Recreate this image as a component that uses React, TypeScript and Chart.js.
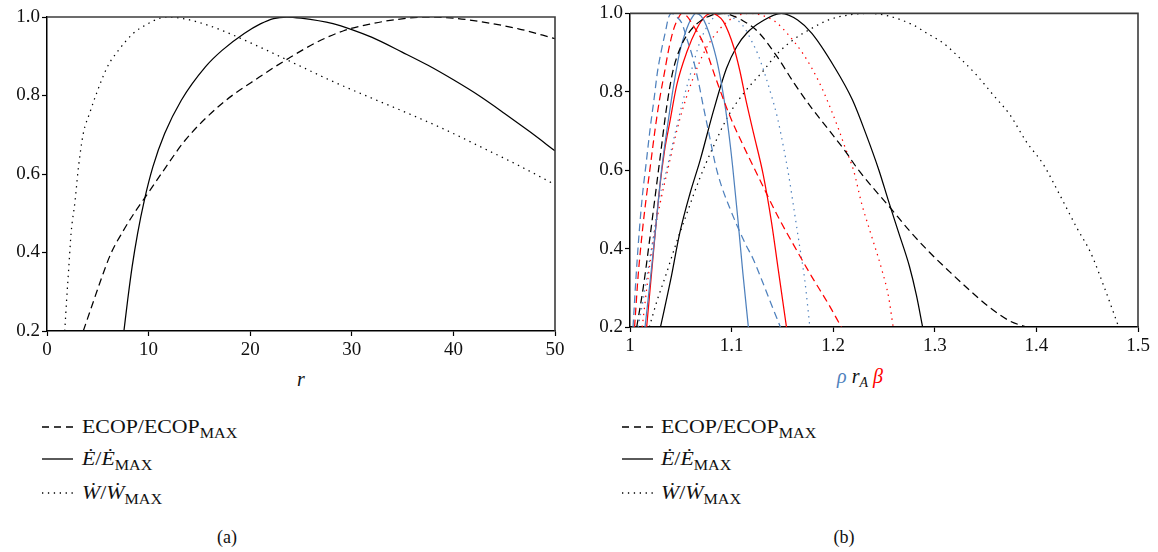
import React, { useEffect, useRef } from "react";
import { Chart, registerables } from "chart.js";

Chart.register(...registerables);

const FONT = "'Liberation Serif', 'DejaVu Serif', 'Times New Roman', serif";
const BLUE = "#4F81BD";
const RED = "#FF0000";
const BLACK = "#000000";

// ---------- tick labels ----------
const xTicksA = [0, 10, 20, 30, 40, 50];
const xTicksB = [1, 1.1, 1.2, 1.3, 1.4, 1.5];
const yTicks = [0.2, 0.4, 0.6, 0.8, 1.0];

// ---------- panel (a): x = r ----------
const aEcop: number[][] = [
  [3.57, 0.2], [4.5, 0.27], [5.3, 0.33], [6.3, 0.398], [7.5, 0.455], [8.7, 0.505],
  [9.94, 0.551], [11.5, 0.61], [13.6, 0.686], [17.2, 0.779], [20.9, 0.847],
  [23.8, 0.895], [26.5, 0.935], [29.2, 0.965], [32, 0.983], [34.5, 0.994],
  [37.3, 1.0], [40, 0.997], [42.7, 0.988], [46.4, 0.97], [50, 0.945],
];
const aE: number[][] = [
  [7.57, 0.2], [7.94, 0.279], [8.38, 0.364], [8.92, 0.449], [9.58, 0.533],
  [10.42, 0.618], [11.58, 0.703], [13.22, 0.788], [15.59, 0.873], [17.23, 0.915],
  [19.41, 0.958], [21.05, 0.983], [22.3, 0.996], [23.6, 1.0], [25, 0.997],
  [28.15, 0.983], [30, 0.968], [32, 0.948], [35, 0.91], [37.5, 0.877],
  [40, 0.84], [42.5, 0.8], [45, 0.755], [47.5, 0.708], [50, 0.659],
];
const aW: number[][] = [
  [1.75, 0.2], [1.93, 0.279], [2.15, 0.364], [2.37, 0.449], [2.77, 0.533],
  [3.1, 0.618], [3.57, 0.703], [4.2, 0.755], [4.8, 0.8], [5.94, 0.873],
  [7.03, 0.915], [8.48, 0.958], [9.94, 0.983], [11, 0.996], [11.8, 1.0],
  [13.6, 0.995], [15.5, 0.982], [17.2, 0.966], [20.9, 0.924], [24.5, 0.88],
  [28.2, 0.835], [31.8, 0.795], [35.4, 0.756], [39.1, 0.714], [42.7, 0.669],
  [46.4, 0.622], [50, 0.573],
];

// ---------- panel (b): x = rho (blue), r_A (black), beta (red) ----------
const bEcopRho: number[][] = [
  [1.003, 0.2], [1.006, 0.33], [1.009, 0.44], [1.012, 0.53], [1.016, 0.62],
  [1.02, 0.71], [1.0236, 0.78], [1.027, 0.85], [1.031, 0.907], [1.035, 0.955],
  [1.038, 0.99], [1.041, 1.0], [1.045, 0.993], [1.051, 0.975], [1.056, 0.935],
  [1.062, 0.885], [1.067, 0.83], [1.072, 0.765], [1.078, 0.69], [1.084, 0.615],
  [1.09, 0.56], [1.098, 0.505], [1.106, 0.455], [1.114, 0.41], [1.121, 0.375],
  [1.13, 0.318], [1.138, 0.265], [1.148, 0.2],
];
const bEcopBeta: number[][] = [
  [1.0045, 0.2], [1.008, 0.33], [1.012, 0.44], [1.016, 0.53], [1.02, 0.61],
  [1.025, 0.71], [1.029, 0.779], [1.034, 0.85], [1.038, 0.907], [1.043, 0.96],
  [1.047, 0.985], [1.051, 1.0], [1.056, 0.993], [1.062, 0.97], [1.072, 0.925],
  [1.085, 0.83], [1.098, 0.74], [1.112, 0.66], [1.126, 0.585], [1.146, 0.48],
  [1.162, 0.405], [1.179, 0.328], [1.195, 0.26], [1.208, 0.2],
];
const bEcopRA: number[][] = [
  [1.0066, 0.2], [1.013, 0.3], [1.0197, 0.43], [1.0246, 0.53], [1.03, 0.64],
  [1.036, 0.76], [1.042, 0.85], [1.05, 0.915], [1.06, 0.958], [1.07, 0.982],
  [1.08, 0.995], [1.092, 1.0], [1.1, 0.995], [1.11, 0.983], [1.126, 0.953],
  [1.146, 0.885], [1.162, 0.82], [1.179, 0.758], [1.195, 0.705], [1.212, 0.648],
  [1.225, 0.6], [1.2575, 0.5], [1.2756, 0.444], [1.295, 0.39], [1.315, 0.34],
  [1.335, 0.292], [1.354, 0.25], [1.374, 0.215], [1.39, 0.2],
];
const bERho: number[][] = [
  [1.0148, 0.2], [1.021, 0.345], [1.026, 0.472], [1.031, 0.6], [1.038, 0.732],
  [1.043, 0.817], [1.049, 0.902], [1.056, 0.962], [1.06, 0.985], [1.065, 1.0],
  [1.07, 0.993], [1.075, 0.97], [1.085, 0.885], [1.092, 0.79], [1.097, 0.7],
  [1.101, 0.61], [1.106, 0.48], [1.111, 0.34], [1.1165, 0.2],
];
const bEBeta: number[][] = [
  [1.0164, 0.2], [1.023, 0.388], [1.029, 0.55], [1.034, 0.65], [1.039, 0.72],
  [1.046, 0.817], [1.056, 0.902], [1.066, 0.962], [1.073, 0.99], [1.08, 1.0],
  [1.086, 0.995], [1.092, 0.979], [1.102, 0.915], [1.108, 0.855], [1.114, 0.78],
  [1.122, 0.69], [1.131, 0.59], [1.139, 0.472], [1.146, 0.345], [1.154, 0.2],
];
const bERA: number[][] = [
  [1.03, 0.2], [1.04, 0.32], [1.049, 0.44], [1.059, 0.54], [1.069, 0.625],
  [1.082, 0.75], [1.095, 0.86], [1.105, 0.915], [1.115, 0.95], [1.13, 0.98],
  [1.149, 1.0], [1.165, 0.983], [1.179, 0.949], [1.201, 0.864], [1.219, 0.779],
  [1.232, 0.694], [1.245, 0.6], [1.254, 0.525], [1.2645, 0.44], [1.275, 0.355],
  [1.282, 0.28], [1.288, 0.2],
];
const bWRho: number[][] = [
  [1.008, 0.2], [1.013, 0.27], [1.018, 0.35], [1.023, 0.43], [1.029, 0.53],
  [1.036, 0.6], [1.044, 0.69], [1.052, 0.775], [1.06, 0.85], [1.069, 0.928],
  [1.079, 0.979], [1.09, 1.0], [1.1, 0.99], [1.107, 0.98], [1.113, 0.962],
  [1.12, 0.928], [1.126, 0.895], [1.133, 0.843], [1.139, 0.792], [1.145, 0.735],
  [1.151, 0.66], [1.156, 0.59], [1.162, 0.49], [1.167, 0.405], [1.172, 0.32],
  [1.177, 0.2],
];
const bWBeta: number[][] = [
  [1.012, 0.2], [1.018, 0.33], [1.024, 0.44], [1.03, 0.52], [1.037, 0.6],
  [1.049, 0.73], [1.062, 0.834], [1.075, 0.911], [1.089, 0.962], [1.102, 0.99],
  [1.118, 1.0], [1.13, 0.995], [1.143, 0.979], [1.156, 0.945], [1.169, 0.902],
  [1.179, 0.86], [1.189, 0.809], [1.197, 0.76], [1.205, 0.707], [1.212, 0.656],
  [1.22, 0.6], [1.228, 0.515], [1.238, 0.43], [1.248, 0.345], [1.2545, 0.277],
  [1.259, 0.2],
];
const bWRA: number[][] = [
  [1.019, 0.2], [1.027, 0.27], [1.035, 0.33], [1.045, 0.41], [1.056, 0.49],
  [1.068, 0.575], [1.082, 0.66], [1.097, 0.74], [1.113, 0.8], [1.13, 0.85],
  [1.146, 0.9], [1.162, 0.935], [1.179, 0.962], [1.195, 0.983], [1.215, 0.996],
  [1.235, 1.0], [1.255, 0.993], [1.279, 0.97], [1.295, 0.945], [1.308, 0.925],
  [1.325, 0.885], [1.341, 0.843], [1.3575, 0.792], [1.374, 0.741], [1.39, 0.673],
  [1.407, 0.614], [1.423, 0.537], [1.44, 0.452], [1.4535, 0.389], [1.467, 0.3],
  [1.481, 0.2],
];

const DASH = [7.5, 4.5];
const DOT = [1.4, 4.6];

function ds(pts: number[][], color: string, dash: number[]) {
  return {
    data: pts.map(([x, y]) => ({ x, y })),
    borderColor: color,
    backgroundColor: color,
    borderWidth: 1.25,
    borderDash: dash,
    borderCapStyle: "butt" as const,
    pointRadius: 0,
    showLine: true,
    fill: false,
    cubicInterpolationMode: "monotone" as const,
  };
}

const framePlugin = {
  id: "frame",
  afterDatasetsDraw(chart: any) {
    const { ctx, chartArea: a } = chart;
    ctx.save();
    ctx.strokeStyle = "#3c3c3c";
    ctx.lineWidth = 1.6;
    ctx.beginPath();
    ctx.moveTo(a.left, a.top);
    ctx.lineTo(a.right, a.top);
    ctx.lineTo(a.right, a.bottom);
    ctx.stroke();
    ctx.restore();
  },
};

function fmtX(v: number) {
  return Number.isInteger(v) ? String(v) : v.toFixed(1);
}

function makeConfig(
  datasets: any[],
  xMin: number,
  xMax: number,
  xTicks: number[],
  yWidth: number,
  padTop: number,
  padRight: number
): any {
  const tickFont = { family: FONT, size: 19 };
  return {
    type: "scatter",
    data: { datasets },
    options: {
      animation: false,
      responsive: false,
      maintainAspectRatio: false,
      layout: { padding: { left: 0, right: padRight, top: padTop, bottom: 0 } },
      plugins: { legend: { display: false }, tooltip: { enabled: false } },
      scales: {
        x: {
          type: "linear",
          min: xMin,
          max: xMax,
          afterBuildTicks: (s: any) => {
            s.ticks = xTicks.map((v) => ({ value: v }));
          },
          afterFit: (s: any) => {
            s.height = 31;
          },
          grid: {
            display: true,
            drawOnChartArea: false,
            drawTicks: true,
            tickLength: 5,
            tickColor: "#000",
            tickWidth: 1.2,
          },
          border: { display: true, color: "#000", width: 1.5 },
          ticks: {
            color: "#111",
            font: tickFont,
            padding: 3,
            maxRotation: 0,
            autoSkip: false,
            callback: (v: number) => fmtX(Number(v)),
          },
        },
        y: {
          type: "linear",
          min: 0.2,
          max: 1.0,
          afterBuildTicks: (s: any) => {
            s.ticks = yTicks.map((v) => ({ value: v }));
          },
          afterFit: (s: any) => {
            s.width = yWidth;
          },
          grid: {
            display: true,
            drawOnChartArea: false,
            drawTicks: true,
            tickLength: 5,
            tickColor: "#000",
            tickWidth: 1.2,
          },
          border: { display: true, color: "#000", width: 1.5 },
          ticks: {
            color: "#111",
            font: tickFont,
            padding: 2,
            autoSkip: false,
            callback: (v: number) => Number(v).toFixed(1),
          },
        },
      },
    },
    plugins: [framePlugin],
  };
}

function ChartCanvas({
  config,
  left,
  width,
  height,
}: {
  config: () => any;
  left: number;
  width: number;
  height: number;
}) {
  const ref = useRef<HTMLCanvasElement | null>(null);
  useEffect(() => {
    if (!ref.current) return;
    const chart = new Chart(ref.current, config());
    return () => chart.destroy();
  }, []);
  return (
    <canvas
      ref={ref}
      width={width}
      height={height}
      style={{ position: "absolute", left, top: 0, width, height }}
    />
  );
}

function Sample({ kind, x, y }: { kind: string; x: number; y: number }) {
  const dash = kind === "dash" ? "7 5" : kind === "dot" ? "1.3 4.6" : undefined;
  return (
    <svg
      width={32}
      height={4}
      style={{ position: "absolute", left: x, top: y - 2, overflow: "visible" }}
    >
      <line x1={0} y1={2} x2={31} y2={2} stroke="#000" strokeWidth={1.3} strokeDasharray={dash} />
    </svg>
  );
}

const subStyle: React.CSSProperties = { fontSize: 14, position: "relative", top: 5 };

function Legend({ lineX, textX }: { lineX: number; textX: number }) {
  const rows = [
    { kind: "dash", y: 427, content: (<>ECOP/ECOP<span style={subStyle}>MAX</span></>) },
    { kind: "solid", y: 459, content: (<><i>Ė</i>/<i>Ė</i><span style={subStyle}>MAX</span></>) },
    { kind: "dot", y: 493, content: (<><i>Ẇ</i>/<i>Ẇ</i><span style={subStyle}>MAX</span></>) },
  ];
  return (
    <>
      {rows.map((r, i) => (
        <React.Fragment key={i}>
          <Sample kind={r.kind} x={lineX} y={r.y} />
          <div
            style={{
              position: "absolute",
              left: textX,
              top: r.y - 11,
              lineHeight: "22px",
              fontSize: 19,
              fontFamily: FONT,
              color: "#111",
              whiteSpace: "nowrap",
              transform: "scaleX(1.15)",
              transformOrigin: "0 50%",
            }}
          >
            {r.content}
          </div>
        </React.Fragment>
      ))}
    </>
  );
}

function Label({ x, y, children, size = 18 }: { x: number; y: number; children: any; size?: number }) {
  return (
    <div
      style={{
        position: "absolute",
        left: x,
        top: y,
        transform: "translate(-50%, -50%)",
        fontFamily: FONT,
        fontSize: size,
        lineHeight: "24px",
        color: "#111",
        whiteSpace: "nowrap",
      }}
    >
      {children}
    </div>
  );
}

export default function App() {
  const cfgA = () =>
    makeConfig(
      [ds(aEcop, BLACK, DASH), ds(aE, BLACK, []), ds(aW, BLACK, DOT)],
      0,
      50,
      xTicksA,
      47,
      17,
      25
    );
  const cfgB = () =>
    makeConfig(
      [
        ds(bEcopRho, BLUE, DASH),
        ds(bEcopBeta, RED, DASH),
        ds(bEcopRA, BLACK, DASH),
        ds(bERho, BLUE, []),
        ds(bEBeta, RED, []),
        ds(bERA, BLACK, []),
        ds(bWRho, BLUE, DOT),
        ds(bWBeta, RED, DOT),
        ds(bWRA, BLACK, DOT),
      ],
      1,
      1.5,
      xTicksB,
      50,
      13,
      20
    );
  return (
    <div
      style={{
        position: "absolute",
        left: 0,
        top: 0,
        width: 1158,
        height: 552,
        background: "#fff",
        overflow: "hidden",
      }}
    >
      <ChartCanvas config={cfgA} left={0} width={580} height={362} />
      <ChartCanvas config={cfgB} left={580} width={578} height={358} />
      <Label x={301} y={379} size={20}>
        <i>r</i>
      </Label>
      <Label x={860} y={377} size={20}>
        <i style={{ color: BLUE }}>ρ</i>{" "}
        <i>r</i>
        <i style={{ fontSize: 14, position: "relative", top: 4 }}>A</i>{" "}
        <i style={{ color: RED }}>β</i>
      </Label>
      <Legend lineX={42} textX={82} />
      <Legend lineX={622} textX={661} />
      <Label x={227} y={537}>(a)</Label>
      <Label x={844} y={537}>(b)</Label>
    </div>
  );
}
